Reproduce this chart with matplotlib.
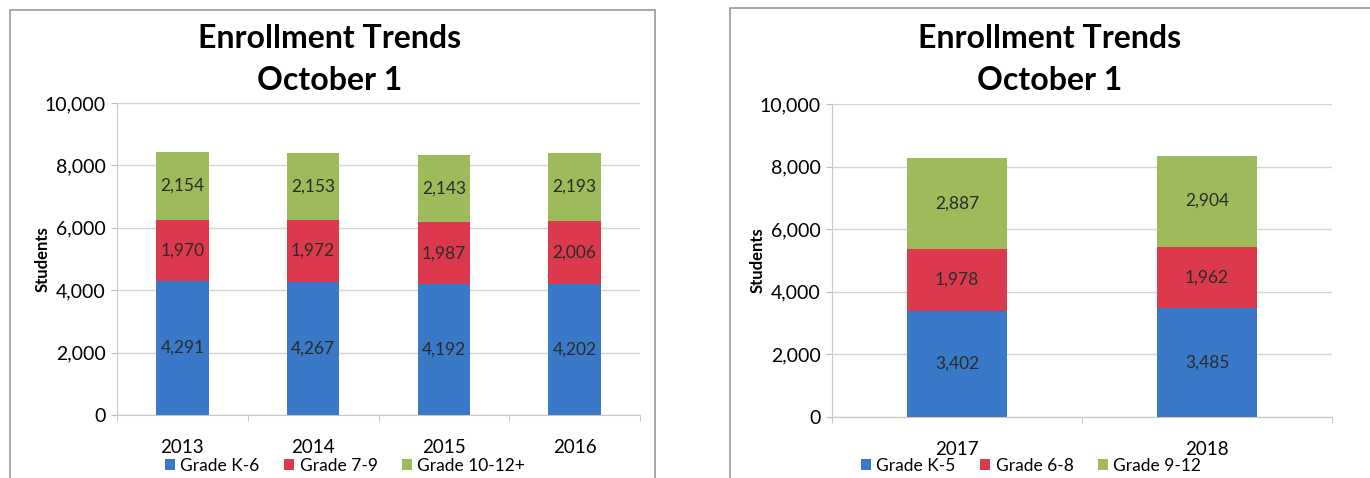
import matplotlib.pyplot as plt
import numpy as np
from matplotlib.patches import Rectangle

plt.rcParams['font.family'] = ['Lato', 'DejaVu Sans']

# left chart: 2013-2016
years_a = ['2013', '2014', '2015', '2016']
k6 = [4291, 4267, 4192, 4202]
g79 = [1970, 1972, 1987, 2006]
g1012 = [2154, 2153, 2143, 2193]
labels_a = ['Grade K-6', 'Grade 7-9', 'Grade 10-12+']

# right chart: 2017-2018
years_b = ['2017', '2018']
k5 = [3402, 3485]
g68 = [1978, 1962]
g912 = [2887, 2904]
labels_b = ['Grade K-5', 'Grade 6-8', 'Grade 9-12']

colors = ['#3a78c8', '#dc3a4c', '#9dbb5a']

W, H = 1370, 478
fig = plt.figure(figsize=(W / 100, H / 100), dpi=100)


def px(x0, y0, x1, y1):
    return [x0 / W, 1 - y1 / H, (x1 - x0) / W, (y1 - y0) / H]


def panel(frame, axbox, title_x, legend_x, years, series, names):
    fx0, fy0, fx1, fy1 = frame
    fig.patches.append(Rectangle((fx0 / W, 1 - fy1 / H), (fx1 - fx0) / W, (fy1 - fy0) / H,
                                 transform=fig.transFigure, fill=False,
                                 edgecolor='#9a9a9a', lw=1.2))
    fig.text(title_x / W, 1 - 38 / H, 'Enrollment Trends', ha='center', va='center',
             fontsize=23, fontweight='bold')
    fig.text(title_x / W, 1 - 80 / H, 'October 1', ha='center', va='center',
             fontsize=23, fontweight='bold')

    ax = fig.add_axes(px(*axbox))
    x = np.arange(len(years))
    bottom = np.zeros(len(years))
    for vals, c, name in zip(series, colors, names):
        bars = ax.bar(x, vals, 0.4, bottom=bottom, color=c, label=name, zorder=3)
        ax.bar_label(bars, labels=[f'{v:,}' for v in vals], label_type='center',
                     fontsize=12.5, color='#2a2a2a')
        bottom += np.array(vals)

    ax.set_xlim(-0.5, len(years) - 0.5)
    ax.set_ylim(0, 10000)
    ax.set_yticks(range(0, 10001, 2000))
    ax.set_yticklabels([f'{v:,}' for v in range(0, 10001, 2000)], fontsize=14)
    ax.set_xticks(x)
    ax.set_xticklabels(years, fontsize=13.5)
    ax.set_xticks(np.arange(-0.5, len(years)), minor=True)
    ax.tick_params(axis='x', which='major', length=0, pad=17)
    ax.tick_params(axis='x', which='minor', length=4, color='#bdbdbd')
    ax.tick_params(axis='y', length=4, color='#bdbdbd', pad=4)
    ax.grid(axis='y', color='#d4d4d4', lw=1, zorder=0)
    for s in ['top', 'right']:
        ax.spines[s].set_visible(False)
    ax.spines['left'].set_color('#c8c8c8')
    ax.spines['bottom'].set_color('#c8c8c8')
    ax.set_ylabel('Students', fontsize=12, fontweight='bold', labelpad=-4)
    fig.legend(*ax.get_legend_handles_labels(), loc='center',
               bbox_to_anchor=(legend_x / W, 1 - 466 / H), ncol=3, frameon=False,
               fontsize=12.5, handlelength=0.6, handleheight=0.6, handletextpad=0.3,
               columnspacing=1.4, borderpad=0)
    return ax


panel((10, 10, 655, 490), (117, 103, 640, 415), 330, 345,
      years_a, [k6, g79, g1012], labels_a)
panel((730, 8, 1380, 490), (832, 104, 1332, 417), 1050, 1031,
      years_b, [k5, g68, g912], labels_b)

fig.savefig('out.png', dpi=100)
